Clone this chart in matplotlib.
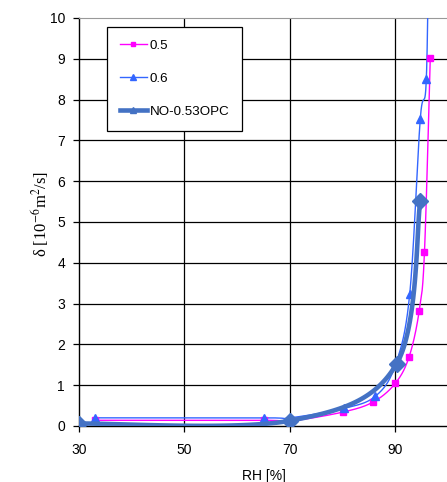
import numpy as np
import matplotlib
matplotlib.use("Agg")
import matplotlib.pyplot as plt
from matplotlib.lines import Line2D

# ---- data ----
rh_05 = [33, 65, 70, 80, 85.8, 90, 92.6, 94.5, 95.5, 96.6]
d_05 = [0.14, 0.14, 0.12, 0.34, 0.59, 1.05, 1.70, 2.82, 4.26, 9.02]

rh_06 = [33, 65, 70, 80.2, 86.2, 90, 92.7, 94.7, 95.85, 96.4]
d_06 = [0.2, 0.2, 0.2, 0.43, 0.73, 1.5, 3.23, 7.52, 8.5, 13.0]

rh_no = [30, 70, 90.2, 94.7]
d_no = [0.06, 0.13, 1.52, 5.51]

labels = ["0.5", "0.6", "NO-0.53OPC"]
xticks = [30, 50, 70, 90]
yticks = list(range(0, 11))

plt.rcParams["font.family"] = ["Liberation Sans", "DejaVu Sans"]
plt.rcParams["mathtext.fontset"] = "stix"

fig = plt.figure(figsize=(4.47, 4.82), dpi=100)
ax = fig.add_axes([0.1767, 0.1162, 0.826, 0.8465])
ax.set_xlim(30, 100)
ax.set_ylim(0, 10)

SX, SY = 5.27, 40.8  # px per data unit, used to smooth in screen space


def smooth(xs, ys, n=40):
    P = np.column_stack([np.asarray(xs) * SX, np.asarray(ys) * SY])
    out = []
    for i in range(len(P) - 1):
        p0 = P[i - 1] if i > 0 else P[i]
        p1, p2 = P[i], P[i + 1]
        p3 = P[i + 2] if i + 2 < len(P) else P[i + 1]
        c1 = p1 + (p2 - p0) / 6.0
        c2 = p2 - (p3 - p1) / 6.0
        t = np.linspace(0, 1, n)[:, None]
        seg = ((1 - t) ** 3) * p1 + 3 * ((1 - t) ** 2) * t * c1 + 3 * (1 - t) * t ** 2 * c2 + t ** 3 * p2
        out.append(seg if i == 0 else seg[1:])
    S = np.vstack(out)
    return S[:, 0] / SX, S[:, 1] / SY


c_mag = "#FF00FF"
c_tri = "#3366FF"
c_no = "#4472C4"

# grid
for x in [50, 70, 90]:
    ax.axvline(x, color="black", lw=0.9, zorder=1)
for y in range(1, 10):
    ax.axhline(y, color="black", lw=0.9, zorder=1)

sx, sy = smooth(rh_05, d_05)
ax.plot(sx, sy, color=c_mag, lw=1.0, zorder=3, clip_on=True)
ax.plot(rh_05, d_05, ls="none", marker="s", ms=4, color=c_mag, zorder=4, clip_on=True)

sx, sy = smooth(rh_06, d_06)
ax.plot(sx, sy, color=c_tri, lw=1.0, zorder=3, clip_on=True)
ax.plot(rh_06, d_06, ls="none", marker="^", ms=6, color=c_tri, zorder=4, clip_on=True)

sx, sy = smooth(rh_no, d_no)
ax.plot(sx, sy, color=c_no, lw=3.3, zorder=5, solid_capstyle="round", clip_on=True)
ax.plot(rh_no, d_no, ls="none", marker="D", ms=8, color=c_no, zorder=6, clip_on=True)

ax.set_xticks(xticks)
ax.set_yticks(yticks)
ax.tick_params(axis="both", direction="out", length=4, width=0.9, labelsize=10, colors="black")
ax.tick_params(axis="y", pad=6)
ax.tick_params(axis="x", pad=8)

ax.spines["top"].set_color("#999999")
ax.spines["right"].set_visible(False)
for s in ["left", "bottom"]:
    ax.spines[s].set_color("black")
    ax.spines[s].set_linewidth(1.0)

ax.set_xlabel("RH [%]", fontsize=10, labelpad=9)
ax.set_ylabel(r"δ [10$^{-6}$m$^{2}$/s]", fontsize=12, family=["Liberation Serif", "DejaVu Serif"])
ax.yaxis.set_label_coords(-0.075, 0.52)

handles = [
    Line2D([], [], color=c_mag, lw=1.0, marker="s", ms=3),
    Line2D([], [], color=c_tri, lw=1.0, marker="^", ms=4),
    Line2D([], [], color=c_no, lw=3.3, marker="^", ms=4),
]
leg = ax.legend(handles, labels, loc="upper left", bbox_to_anchor=(0.0759, 0.978),
                borderaxespad=0, fancybox=False, framealpha=1, edgecolor="black",
                fontsize=9.6, labelspacing=1.55, handlelength=2.05, handletextpad=0.2,
                borderpad=0.95)
leg.get_frame().set_linewidth(0.9)
leg.set_zorder(10)

fig.savefig("out.png", dpi=100)
